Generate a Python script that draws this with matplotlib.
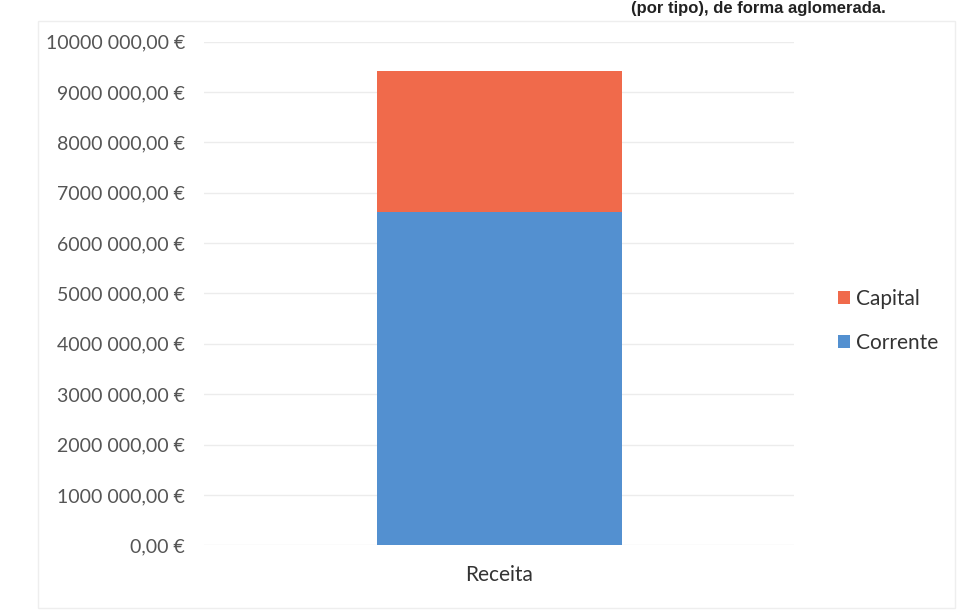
import matplotlib
matplotlib.use('Agg')
import matplotlib.pyplot as plt
from matplotlib.ticker import FuncFormatter

# data
categories = ['Receita']
corrente = [6620000]
capital = [2790000]
series_names = ['Corrente', 'Capital']
colors = {'Corrente': '#5390D0', 'Capital': '#F06A4B'}


def euro_fmt(v, pos):
    # 10000000 -> "10000 000,00 €"
    n = int(round(v))
    if n == 0:
        return '0,00 €'
    head, tail = divmod(n, 1000)
    return f'{head} {tail:03d},00 €'


plt.rcParams['font.family'] = ['Lato', 'DejaVu Sans']

fig = plt.figure(figsize=(9.6, 6.14), dpi=100)
ax = fig.add_axes([0.213, 0.112, 0.614, 0.82])

ax.bar(categories, corrente, width=0.415, color=colors['Corrente'], label='Corrente', zorder=2)
ax.bar(categories, capital, width=0.415, bottom=corrente, color=colors['Capital'], label='Capital', zorder=2)

ax.set_xlim(-0.5, 0.5)
ax.set_ylim(0, 10000000)
ax.set_yticks(range(0, 10000001, 1000000))
ax.yaxis.set_major_formatter(FuncFormatter(euro_fmt))
ax.grid(axis='y', color='#ECECEC', linewidth=1, zorder=0)
for s in ax.spines.values():
    s.set_visible(False)
ax.tick_params(axis='y', length=0, labelsize=14, colors='#555555', pad=14)
ax.tick_params(axis='x', length=0, labelsize=15, pad=14, colors='#333333')

# legend: Capital on top, Corrente below
h, l = ax.get_legend_handles_labels()
fig.legend(h[::-1], l[::-1], loc='center left', bbox_to_anchor=(0.853, 0.477),
           frameon=False, fontsize=15, handlelength=0.6, handleheight=0.6,
           handletextpad=0.3, labelspacing=1.15, labelcolor='#333333')

# remnant of the document caption at the top edge
fig.text(0.923, 0.999, '(por tipo), de forma aglomerada.', ha='right', va='top',
         fontsize=12, fontweight='bold', color='#222222', family=['Liberation Sans', 'DejaVu Sans'])

# faint chart frame
frame = plt.Rectangle((0.04, 0.01), 0.955, 0.955, transform=fig.transFigure,
                      fill=False, edgecolor='#EEEEEE', linewidth=1)
fig.add_artist(frame)

fig.savefig('out.png', dpi=100)
